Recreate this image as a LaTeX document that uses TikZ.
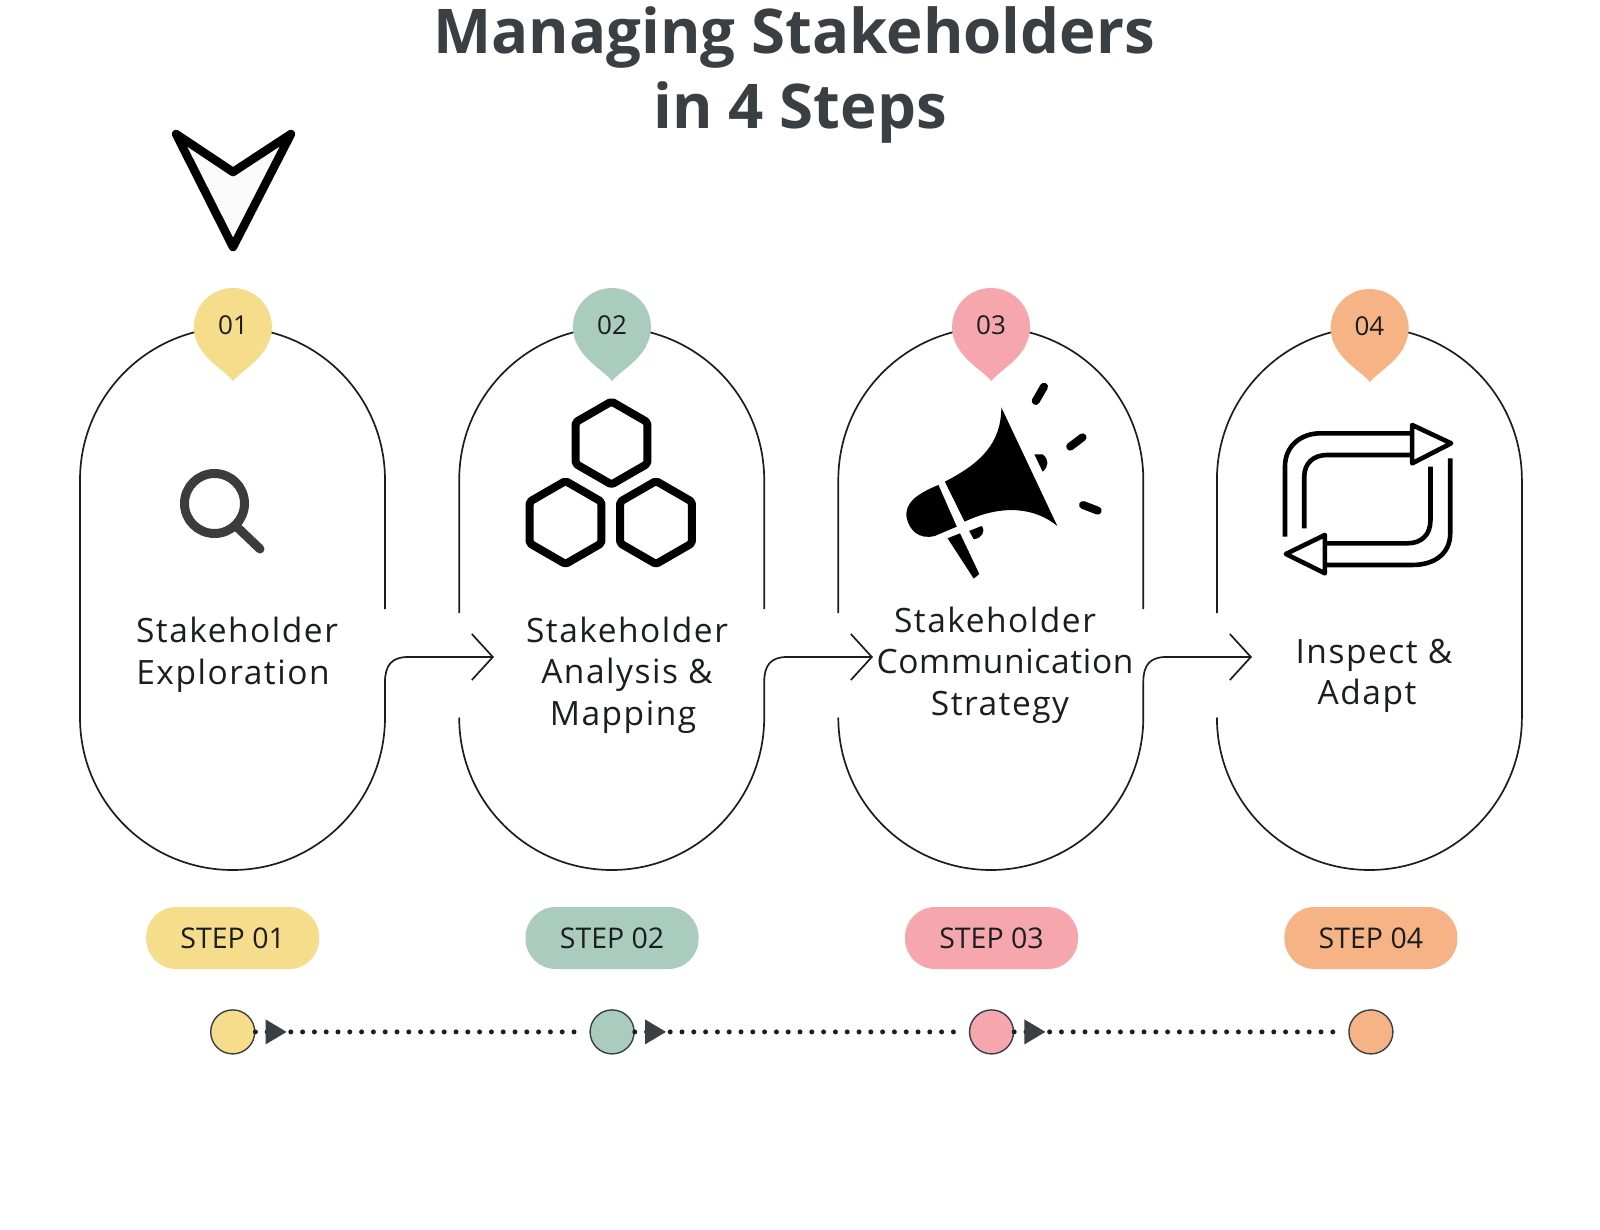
\documentclass[tikz,border=0pt]{standalone}
\usepackage{xcolor}
\usepackage{fontspec}
\setmainfont{Open Sans}
\newfontfamily\labelfont[LetterSpace=4.5]{Open Sans}
\newfontfamily\tightfont[LetterSpace=2]{Open Sans}
\usepackage{tikz}
\usetikzlibrary{positioning,arrows.meta,shapes.geometric}

\definecolor{inkdark}{HTML}{3A3F44}
\definecolor{inkglass}{HTML}{3C3C3C}
\definecolor{inkblack}{HTML}{1B1D1F}
\definecolor{stepyellow}{HTML}{F6DD8C}
\definecolor{stepgreen}{HTML}{A9CCBF}
\definecolor{steppink}{HTML}{F6A7AD}
\definecolor{steporange}{HTML}{F6B486}

\newcommand{\pinat}[3]{\fill[#3] (#1,#2) ++(34,19.5) arc (30:-210:39) .. controls +(10,17) and +(-7,-9) .. ++(34,34.5) .. controls +(7,-9) and +(-10,17) .. ++(34,-34.5) -- cycle;}

\begin{document}
\begin{tikzpicture}[
  x=1pt, y=-1pt,
  outline/.style={draw=inkblack, line width=1.7pt},
  arr/.style={outline, -{Straight Barb[length=21pt,width=46pt,line width=1.7pt]}},
  label/.style={font=\labelfont\fontsize{33.5}{41.5}\selectfont, text=inkblack, align=center},
  num/.style={font=\fontsize{26}{30}\selectfont, text=inkblack},
  steppill/.style={rounded corners=30pt, minimum width=173pt, minimum height=62pt, inner sep=0pt,
                   font=\fontsize{28.5}{30}\selectfont, text=inkblack},
  dot/.style={circle, draw=inkdark, line width=1.4pt, minimum size=44pt, inner sep=0pt},
  dotline/.style={inkblack, line width=5pt, line cap=round, dash pattern=on 0pt off 11.8pt, shorten >=8pt},
  tri/.style={isosceles triangle, isosceles triangle apex angle=70, isosceles triangle stretches,
              fill=inkdark, minimum height=21pt, minimum width=25pt, inner sep=0pt},
  hex/.style={regular polygon, regular polygon sides=6, draw=black, line width=8pt, line join=round,
              rounded corners=2pt, minimum size=83pt, inner sep=0pt},
  ray/.style={line width=8pt, line cap=round},
  cycleline/.style={line width=4.6pt, black},
  cyclehead/.style={line width=4.6pt, black, line join=round}
]
\useasboundingbox (0,0) rectangle (1600,1230);

% title and pointer
\node[font=\fontsize{61.7}{75}\selectfont\bfseries, text=inkdark, align=center] (title) at (794,75) {Managing Stakeholders\\\hspace*{12pt}in 4 Steps};
\draw[line width=8.5pt, line join=round, fill=black!2!white, draw=black] (176,134) -- (233,172) -- (291,134) -- (233,247) -- cycle;

% pill outlines
\draw[outline] (385,609) -- (385,480) arc (0:-180:152.5) -- (80,717.5) arc (180:0:152.5) -- (385,682);
\draw[outline] (459.2,613) -- (459.2,480) arc (-180:0:152.5) -- (764.2,609);
\draw[outline] (459.2,717.5) arc (180:0:152.5) -- (764.2,682);
\draw[outline] (838.3,613) -- (838.3,480) arc (-180:0:152.5) -- (1143.3,609);
\draw[outline] (838.3,717.5) arc (180:0:152.5) -- (1143.3,682);
\draw[outline] (1216.9,613) -- (1216.9,480) arc (-180:0:152.5) -- (1521.9,717.5) arc (0:180:152.5);

% connectors
\coordinate (tip1) at (494,657);
\coordinate (tip2) at (873,657);
\coordinate (tip3) at (1252,657);
\draw[arr] (385,682) .. controls (385,665) and (392,657) .. (408,657) -- (tip1);
\draw[arr] (764.2,682) .. controls (764.2,665) and (771,657) .. (787,657) -- (tip2);
\draw[arr] (1143.3,682) .. controls (1143.3,665) and (1150,657) .. (1166,657) -- (tip3);

% pins
\pinat{232.7}{327}{stepyellow}
\pinat{611.7}{327}{stepgreen}
\pinat{990.8}{327}{steppink}
\pinat{1369.4}{328}{steporange}
\node[num] (num1) at (233,325) {01};
\node[num] (num2) at (612,325) {02};
\node[num] (num3) at (991,325) {03};
\node[num] (num4) at (1369.4,326) {04};

% magnifier
\draw[line width=9pt, color=inkglass] (214.5,503.5) circle (30);
\draw[line width=9pt, color=inkglass, line cap=round] (237,527) -- (260,549);

% hexagons
\node[hex, rotate=30] (hex1) at (611.5,443) {};
\node[hex, rotate=30] (hex2) at (565.5,522.5) {};
\node[hex, rotate=30] (hex3) at (656,522.5) {};

% megaphone, in crop units
\begin{scope}[shift={(820,270)}, x=0.459pt, y=-0.3333pt]
  \fill[black] (395,412) -- (517,768) .. controls (470,715) and (400,700) .. (315,755) -- (272,635) .. controls (350,580) and (395,520) .. cycle;
  \fill[black] (258,645) -- (298,770) -- (250,798) .. controls (215,810) and (195,780) .. (189,745) .. controls (183,700) and (210,672) .. cycle;
  \fill[black] (278,805) -- (305,790) -- (347,912) -- (335,926) -- cycle;
  \fill[black] (325,783) -- (352,768) .. controls (362,785) and (352,805) .. (335,808) -- cycle;
  \fill[black] (467,553) -- (485,553) .. controls (500,570) and (498,590) .. (485,605) -- cycle;
  \draw[black, ray] (488,350) -- (470,393);
  \draw[black, ray] (572,502) -- (545,530);
  \draw[black, ray] (573,705) -- (605,722);
\end{scope}

% repeat arrows, same units
\begin{scope}[shift={(820,270)}, x=0.459pt, y=-0.3333pt]
  \draw[cycleline] (1013,800) -- (1013,590) .. controls (1013,525) and (1050,490) .. (1090,490) -- (1290,490);
  \draw[cycleline] (1055,775) -- (1055,620) .. controls (1055,580) and (1075,555) .. (1105,555) -- (1290,555);
  \draw[cyclehead] (1290,465) -- (1375,520) -- (1290,580) -- cycle;
  \draw[cycleline] (1373,565) -- (1373,790) .. controls (1373,850) and (1340,885) .. (1290,885) -- (1100,885);
  \draw[cycleline] (1330,590) -- (1330,750) .. controls (1330,795) and (1310,820) .. (1280,820) -- (1100,820);
  \draw[cyclehead] (1100,795) -- (1015,852) -- (1100,910) -- cycle;
\end{scope}

% labels
\node[label] (label1) at (233,655) {\hspace*{8pt}Stakeholder\\Exploration};
\node[label] (label2) at (627,675) {Stakeholder\\Analysis \&\\\hspace*{-8pt}Mapping};
\node[label] (label3) at (1000,665) {\hspace*{-10pt}Stakeholder\\\hspace*{10pt}{\tightfont Communication}\\Strategy};
\node[label] (label4) at (1367,676) {\hspace*{14pt}Inspect \&\\Adapt};

% step badges
\node[steppill, fill=stepyellow] (step1) at (232.7,938) {STEP 01};
\node[steppill, fill=stepgreen, right=206pt of step1] (step2) {STEP 02};
\node[steppill, fill=steppink, right=206pt of step2] (step3) {STEP 03};
\node[steppill, fill=steporange, right=206pt of step3] (step4) {STEP 04};

% timeline
\node[dot, fill=stepyellow, below=40pt of step1] (dot1) {};
\node[dot, fill=stepgreen, below=40pt of step2] (dot2) {};
\node[dot, fill=steppink, below=40pt of step3] (dot3) {};
\node[dot, fill=steporange, below=40pt of step4] (dot4) {};

\draw[dotline] (dot1) -- (dot2);
\draw[dotline] (dot2) -- (dot3);
\draw[dotline] (dot3) -- (dot4);

\node[tri, right=10pt of dot1] (tri1) {};
\node[tri, right=10pt of dot2] (tri2) {};
\node[tri, right=10pt of dot3] (tri3) {};
\end{tikzpicture}
\end{document}
